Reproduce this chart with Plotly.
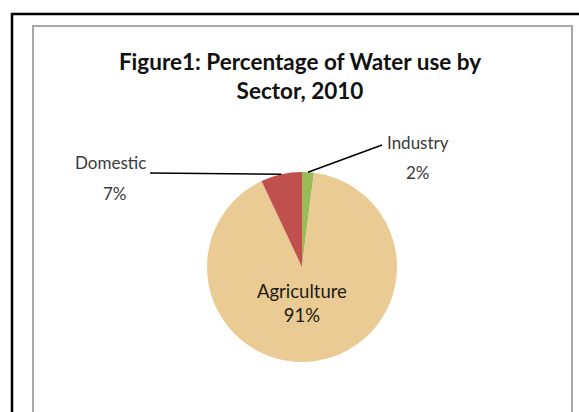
import math
import plotly.graph_objects as go

# ---- data ----
sectors = ["Industry", "Agriculture", "Domestic"]
shares = [2, 91, 7]
slice_colors = ["#9BBB59", "#EACB93", "#C0504D"]
title_text = "Figure1: Percentage of Water use by<br>Sector, 2010"

W, H = 579, 412
FONT = "Lato"

def px(x):
    return x / W

def py(y):
    return 1 - y / H

# pie geometry (pixels)
CX, CY, R = 302, 267, 95

fig = go.Figure()
fig.add_trace(go.Pie(
    labels=sectors,
    values=shares,
    sort=False,
    direction="clockwise",
    rotation=0,
    marker=dict(colors=slice_colors, line=dict(width=0)),
    texttemplate=["", "%{label}<br>%{percent:.0%}", ""],
    textinfo="text",
    textposition=["none", "inside", "none"],
    insidetextorientation="horizontal",
    textfont=dict(family=FONT, size=18.5, color="#1E1A14"),
    hoverinfo="label+percent",
    showlegend=False,
    domain=dict(x=[px(CX - R), px(CX + R)], y=[py(CY + R), py(CY - R)]),
))

# outside labels with leader lines, anchored at the slice mid-angles
total = sum(shares)
cum = 0
mid = {}
for s, v in zip(sectors, shares):
    mid[s] = (cum + v / 2) / total * 360
    cum += v

label_pos = {
    "Domestic": (111, 163, 115, 193, 150, 173),
    "Industry": (418, 142, 418, 172, 382, 145),
}
shapes = []
annotations = []
for s, v in zip(sectors, shares):
    if s not in label_pos:
        continue
    lx, ly, vx, vy, ex, ey = label_pos[s]
    a = math.radians(mid[s])
    ax_ = CX + R * math.sin(a)
    ay_ = CY - R * math.cos(a)
    shapes.append(dict(type="line", xref="paper", yref="paper",
                       x0=px(ex), y0=py(ey), x1=px(ax_), y1=py(ay_),
                       line=dict(color="#000000", width=1.5)))
    annotations.append(dict(text=s, x=px(lx), y=py(ly), xref="paper", yref="paper",
                            showarrow=False, xanchor="center", yanchor="middle",
                            font=dict(family=FONT, size=17, color="#3A3A3A")))
    annotations.append(dict(text=f"{v / total:.0%}", x=px(vx), y=py(vy), xref="paper", yref="paper",
                            showarrow=False, xanchor="center", yanchor="middle",
                            font=dict(family=FONT, size=17, color="#3A3A3A")))

# frames
shapes.append(dict(type="rect", xref="paper", yref="paper",
                   x0=px(12), y0=py(14), x1=px(W + 20), y1=py(H + 20),
                   line=dict(color="#000000", width=2.5), layer="below"))
shapes.append(dict(type="rect", xref="paper", yref="paper",
                   x0=px(33), y0=py(26), x1=px(572), y1=py(H + 20),
                   line=dict(color="#A8A8A8", width=2), layer="below"))

fig.update_layout(
    width=W, height=H,
    margin=dict(l=0, r=0, t=0, b=0),
    paper_bgcolor="white",
    plot_bgcolor="white",
    title=dict(text=title_text, x=px(300), xanchor="center",
               y=py(70), yanchor="top",
               font=dict(family=FONT, size=22.5, color="#111111", weight="bold")),
    shapes=shapes,
    annotations=annotations,
)

fig.write_html("out.html")
